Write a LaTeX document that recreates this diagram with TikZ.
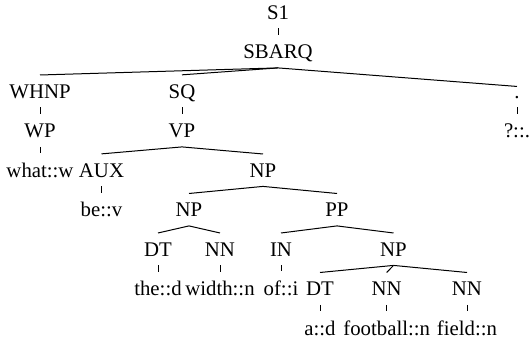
\documentclass[tikz,border=0pt]{standalone}
\usepackage{fontspec}
\setmainfont{Liberation Serif}

\tikzset{
  tn/.style={anchor=base, inner xsep=0pt, inner ysep=4.5pt, text depth=0pt, font=\fontsize{10.4}{12}\selectfont},
  branch/.style={line width=0.5pt}
}

\begin{document}
\begin{tikzpicture}[x=0.5pt, y=-0.5pt]
	\useasboundingbox (0,0) rectangle (531,345);

	% Top of the tree
	\node[tn] (s1) at (278,19) {S1};
	\node[tn] (sbarq) at (278,58.5) {SBARQ};

	% Clause level
	\node[tn] (whnp) at (40,98) {WHNP};
	\node[tn] (sq) at (182,98) {SQ};
	\node[tn] (punct) at (517,98) {.};
	\node[tn] (wp) at (40,137.5) {WP};
	\node[tn] (vp) at (182,137.5) {VP};
	\node[tn] (qmark) at (517,137.5) {?::.};

	% Verb phrase
	\node[tn] (what) at (40,177) {what::w};
	\node[tn] (aux) at (101.5,177) {AUX};
	\node[tn] (npa) at (263,177) {NP};
	\node[tn] (be) at (101.5,216.5) {be::v};
	\node[tn] (npb) at (189,216.5) {NP};
	\node[tn] (pp) at (337,216.5) {PP};

	% Noun and prepositional phrases
	\node[tn] (dta) at (158,256) {DT};
	\node[tn] (nna) at (220,256) {NN};
	\node[tn] (in) at (281,256) {IN};
	\node[tn] (npc) at (393.5,256) {NP};
	\node[tn] (the) at (158,295.5) {the::d};
	\node[tn] (width) at (220,295.5) {width::n};
	\node[tn] (of) at (281,295.5) {of::i};
	\node[tn] (dtb) at (320,295.5) {DT};
	\node[tn] (nnb) at (386.7,295.5) {NN};
	\node[tn] (nnc) at (467,295.5) {NN};
	\node[tn] (a) at (320,335) {a::d};
	\node[tn] (football) at (386.7,335) {football::n};
	\node[tn] (field) at (467,335) {field::n};

	% Branches
	\foreach \p/\c in {s1/sbarq, sbarq/whnp, sbarq/sq, sbarq/punct, whnp/wp, sq/vp, punct/qmark,
		wp/what, vp/aux, vp/npa, aux/be, npa/npb, npa/pp, npb/dta, npb/nna, pp/in, pp/npc,
		dta/the, nna/width, in/of, npc/dtb, npc/nnb, npc/nnc, dtb/a, nnb/football, nnc/field}
		\draw[branch] (\p.south) -- (\c.north);
\end{tikzpicture}
\end{document}
